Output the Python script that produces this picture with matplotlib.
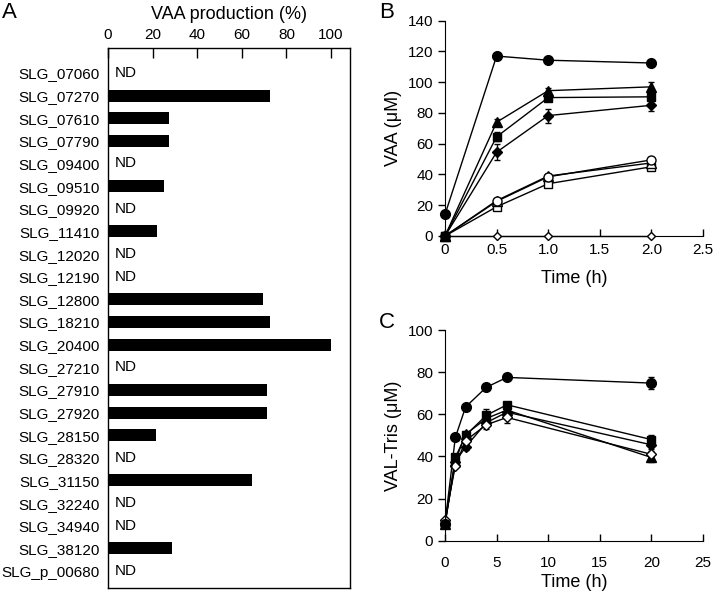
import numpy as np
import matplotlib
matplotlib.use("Agg")
import matplotlib.pyplot as plt

plt.rcParams['font.family'] = ['Liberation Sans', 'DejaVu Sans']
plt.rcParams['font.size'] = 11

# ---- Panel A data ----
genes = ["SLG_07060", "SLG_07270", "SLG_07610", "SLG_07790", "SLG_09400", "SLG_09510",
         "SLG_09920", "SLG_11410", "SLG_12020", "SLG_12190", "SLG_12800", "SLG_18210",
         "SLG_20400", "SLG_27210", "SLG_27910", "SLG_27920", "SLG_28150", "SLG_28320",
         "SLG_31150", "SLG_32240", "SLG_34940", "SLG_38120", "SLG_p_00680"]
production = [None, 72.6, 27.2, 27.2, None, 25.2, None, 22.1, None, None, 69.5, 72.5,
              100, None, 71.3, 71.1, 21.4, None, 64.6, None, None, 28.7, None]
a_ticks = [0, 20, 40, 60, 80, 100]

# ---- Panel B data ----
time_b = [0, 0.5, 1.0, 2.0]
b_circle_f = [14, 117, 114.3, 112.5]
b_circle_f_err = [1, 1, 1, 1.5]
b_tri_f = [0, 74, 94.5, 97]
b_tri_f_err = [0, 2, 2, 3]
b_square_f = [0, 64.5, 90, 90.5]
b_square_f_err = [0, 3, 2, 2]
b_diam_f = [0, 54.5, 78.3, 85]
b_diam_f_err = [0, 5, 4.5, 3.5]
b_circle_o = [0, 22.5, 38.5, 49.5]
b_circle_o_err = [0, 1, 1, 1]
b_tri_o = [0, 23, 39, 47.5]
b_tri_o_err = [0, 1, 1, 1]
b_square_o = [0, 19, 34, 45]
b_square_o_err = [0, 1, 1, 1]
b_diam_o = [0, 0, 0, 0]
b_xticks = [0, 0.5, 1.0, 1.5, 2.0, 2.5]
b_xticklabels = ["0", "0.5", "1.0", "1.5", "2.0", "2.5"]
b_yticks = [0, 20, 40, 60, 80, 100, 120, 140]

# ---- Panel C data ----
time_c = [0, 1, 2, 4, 6, 20]
c_circle_f = [8, 49, 63.5, 72.8, 77.5, 74.8]
c_circle_f_err = [0.5, 1, 1, 1, 1, 3]
c_square_f = [8, 39.5, 50, 59.5, 64.5, 48]
c_square_f_err = [0.5, 1, 1.5, 3, 1.5, 2]
c_tri_f = [8, 38, 50.5, 58, 62, 39.5]
c_tri_f_err = [0.5, 1, 1.5, 2, 1.5, 2]
c_diam_f = [8, 37.5, 44.5, 56, 61, 45.5]
c_diam_f_err = [0.5, 1, 1.5, 2, 2, 2]
c_diam_o = [10, 35.5, 47.5, 55, 58.5, 41]
c_diam_o_err = [0.5, 1, 1, 2, 2.5, 1.5]
c_xticks = [0, 5, 10, 15, 20, 25]
c_yticks = [0, 20, 40, 60, 80, 100]

fig = plt.figure(figsize=(7.14, 5.95), dpi=100)

# ---------- Panel A ----------
axA = fig.add_axes([108/714, 1-588/595, (350-108)/714, (588-48)/595])
ypos = np.arange(len(genes))
for i, v in enumerate(production):
    if v is None:
        axA.text(3, i, "ND", va="center", ha="left", fontsize=11)
    else:
        axA.barh(i, v, height=0.53, color="black")
axA.set_ylim(22.75, -1.1)
axA.set_xlim(0, 108.5)
axA.set_yticks(ypos)
axA.set_yticklabels(genes)
axA.tick_params(axis="y", length=0, pad=6, labelsize=11)
axA.xaxis.tick_top()
axA.xaxis.set_label_position("top")
axA.set_xticks(a_ticks)
axA.tick_params(axis="x", direction="in", length=7, width=1, pad=4, labelsize=11)
axA.set_xlabel("VAA production (%)", fontsize=13, labelpad=7)
for s in axA.spines.values():
    s.set_linewidth(1)

# ---------- Panel B ----------
axB = fig.add_axes([445/714, 1-236/595, (703-445)/714, (236-20.7)/595])
lw = 1.0
def series(ax, x, y, err, marker, filled, ms):
    fc = "black" if filled else "white"
    ax.errorbar(x, y, yerr=err, color="black", marker=marker, markersize=ms,
                markerfacecolor=fc, markeredgecolor="black", markeredgewidth=1,
                linewidth=lw, elinewidth=1, capsize=2, clip_on=False, zorder=3)

series(axB, time_b, b_square_o, b_square_o_err, "s", False, 5.5)
series(axB, time_b, b_tri_o, b_tri_o_err, "^", False, 6.5)
series(axB, time_b, b_circle_o, b_circle_o_err, "o", False, 6.5)
series(axB, time_b, b_diam_o, None, "D", False, 4.5)
series(axB, time_b, b_diam_f, b_diam_f_err, "D", True, 5)
series(axB, time_b, b_square_f, b_square_f_err, "s", True, 5.5)
series(axB, time_b, b_tri_f, b_tri_f_err, "^", True, 6.5)
series(axB, time_b, b_circle_f, b_circle_f_err, "o", True, 7)
axB.set_xlim(0, 2.5)
axB.set_ylim(0, 140)
axB.set_xticks(b_xticks)
axB.set_xticklabels(b_xticklabels)
axB.set_yticks(b_yticks)
axB.spines["top"].set_visible(False)
axB.spines["right"].set_visible(False)
axB.tick_params(axis="x", direction="in", length=5, width=1, pad=5, labelsize=11)
axB.tick_params(axis="y", direction="out", length=5, width=1, labelsize=11)
axB.set_xlabel("Time (h)", fontsize=13, labelpad=9.5)
axB.set_ylabel("VAA (\u03bcM)", fontsize=13, labelpad=4)

# ---------- Panel C ----------
axC = fig.add_axes([445/714, 1-540.7/595, (703-445)/714, (540.7-330)/595])
series(axC, time_c, c_diam_f, c_diam_f_err, "D", True, 5)
series(axC, time_c, c_tri_f, c_tri_f_err, "^", True, 6.5)
series(axC, time_c, c_square_f, c_square_f_err, "s", True, 5.5)
series(axC, time_c, c_diam_o, c_diam_o_err, "D", False, 5)
series(axC, time_c, c_circle_f, c_circle_f_err, "o", True, 7)
axC.set_xlim(0, 25)
axC.set_ylim(0, 100)
axC.set_xticks(c_xticks)
axC.set_yticks(c_yticks)
axC.spines["top"].set_visible(False)
axC.spines["right"].set_visible(False)
axC.tick_params(axis="x", direction="in", length=5, width=1, pad=11, labelsize=11)
axC.tick_params(axis="y", direction="out", length=5, width=1, labelsize=11)
axC.set_xlabel("Time (h)", fontsize=13, labelpad=3)
axC.set_ylabel("VAL-Tris (\u03bcM)", fontsize=13, labelpad=4)

fig.text(2/714, 1-12/595, "A", fontsize=16, va="center", ha="left")
fig.text(379/714, 1-12/595, "B", fontsize=16, va="center", ha="left")
fig.text(379/714, 1-323/595, "C", fontsize=16, va="center", ha="left")

fig.savefig("out.png", dpi=100)
